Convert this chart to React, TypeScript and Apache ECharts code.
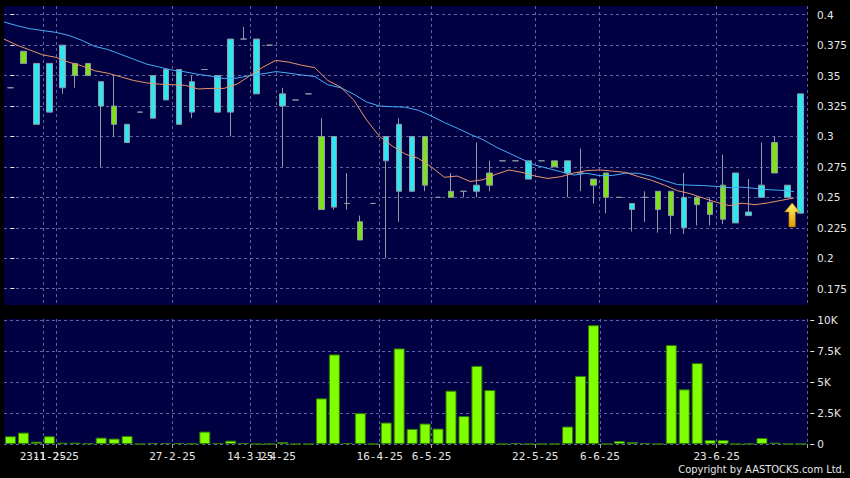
import React, { useEffect, useRef } from 'react';
import * as echarts from 'echarts';

// Day-axis tick labels (placed at the left edge of the listed day slots)
const tickIndices = [3, 4, 13, 19, 21, 29, 33, 41, 46, 55];
const tickLabels = ['23-1-25', '11-2-25', '27-2-25', '14-3-25', '1-4-25', '16-4-25', '6-5-25', '22-5-25', '6-6-25', '23-6-25'];

// Daily OHLC
const opens = [
  0.34, 0.37, 0.31, 0.32, 0.34, 0.36, 0.36, 0.325, 0.325, 0.295,
  0.32, 0.315, 0.33, 0.31, 0.32, 0.355, 0.32, 0.32, 0.38, 0.335,
  0.375, 0.325, 0.33, 0.335, 0.30, 0.242, 0.245, 0.23, 0.245, 0.28,
  0.255, 0.255, 0.30, 0.25, 0.255, 0.255, 0.255, 0.27, 0.28, 0.28,
  0.265, 0.28, 0.28, 0.27, 0.27, 0.265, 0.27, 0.25, 0.24, 0.25,
  0.255, 0.255, 0.225, 0.25, 0.246, 0.26, 0.229, 0.235, 0.25, 0.295,
  0.25, 0.237,
];
const closes = [
  0.34, 0.36, 0.36, 0.36, 0.375, 0.35, 0.35, 0.345, 0.31, 0.31,
  0.32, 0.35, 0.355, 0.355, 0.345, 0.355, 0.35, 0.38, 0.38, 0.38,
  0.375, 0.335, 0.33, 0.335, 0.24, 0.30, 0.245, 0.215, 0.245, 0.30,
  0.31, 0.30, 0.26, 0.25, 0.25, 0.255, 0.26, 0.26, 0.28, 0.28,
  0.28, 0.28, 0.275, 0.28, 0.27, 0.26, 0.25, 0.25, 0.245, 0.25,
  0.24, 0.235, 0.25, 0.244, 0.236, 0.232, 0.27, 0.238, 0.26, 0.27,
  0.26, 0.335,
];
const lows = [
  0.34, 0.36, 0.31, 0.32, 0.335, 0.34, 0.35, 0.275, 0.30, 0.295,
  0.32, 0.315, 0.33, 0.31, 0.315, 0.355, 0.32, 0.30, 0.38, 0.335,
  0.375, 0.275, 0.33, 0.335, 0.24, 0.24, 0.24, 0.215, 0.245, 0.20,
  0.23, 0.255, 0.255, 0.25, 0.25, 0.25, 0.25, 0.255, 0.28, 0.28,
  0.265, 0.28, 0.275, 0.25, 0.255, 0.245, 0.237, 0.25, 0.222, 0.23,
  0.221, 0.22, 0.22, 0.227, 0.227, 0.228, 0.229, 0.235, 0.25, 0.27,
  0.25, 0.237,
];
const highs = [
  0.34, 0.37, 0.36, 0.36, 0.375, 0.36, 0.36, 0.345, 0.35, 0.31,
  0.32, 0.35, 0.355, 0.355, 0.35, 0.355, 0.35, 0.38, 0.39, 0.38,
  0.375, 0.34, 0.33, 0.335, 0.315, 0.30, 0.27, 0.235, 0.245, 0.30,
  0.315, 0.30, 0.30, 0.25, 0.27, 0.255, 0.295, 0.28, 0.28, 0.28,
  0.28, 0.28, 0.28, 0.28, 0.29, 0.265, 0.27, 0.25, 0.245, 0.255,
  0.255, 0.255, 0.27, 0.251, 0.25, 0.285, 0.27, 0.265, 0.295, 0.30,
  0.26, 0.335,
];
const volumes = [
  625, 920, 190, 625, 110, 110, 50, 515, 435, 650,
  0, 80, 80, 80, 30, 1000, 80, 270, 80, 0,
  0, 160, 0, 0, 3680, 7225, 80, 2490, 0, 1730,
  7710, 1220, 1650, 1245, 4300, 2250, 6300, 4350, 0, 80,
  0, 0, 0, 1410, 5490, 9580, 0, 245, 160, 80,
  0, 7980, 4410, 6520, 325, 325, 0, 30, 490, 110,
  0, 0,
];
// Moving averages, one value per day boundary (boundary k = end of day k-1)
const ma10 = [
  0.380, 0.375, 0.371, 0.367, 0.365, 0.361, 0.358, 0.354, 0.352, 0.349,
  0.346, 0.344, 0.343, 0.3425, 0.342, 0.339, 0.3395, 0.3395, 0.343, 0.350,
  0.357, 0.3625, 0.361, 0.3585, 0.3565, 0.346, 0.3405, 0.330, 0.3135, 0.300,
  0.292, 0.2855, 0.282, 0.275, 0.2665, 0.2675, 0.263, 0.2645, 0.269, 0.2725,
  0.2705, 0.2675, 0.2655, 0.267, 0.270, 0.272, 0.2725, 0.2715, 0.2705, 0.267,
  0.264, 0.260, 0.2555, 0.253, 0.2494, 0.246, 0.2432, 0.2452, 0.244, 0.2455,
  0.2475, 0.2495,
];
const ma20 = [
  0.394, 0.391, 0.3885, 0.387, 0.3855, 0.383, 0.379, 0.374, 0.3715, 0.3675,
  0.3635, 0.3595, 0.357, 0.3545, 0.353, 0.351, 0.3495, 0.3475, 0.348, 0.350,
  0.3515, 0.3533, 0.352, 0.3505, 0.3493, 0.3425, 0.340, 0.3348, 0.3283, 0.325,
  0.3245, 0.324, 0.3215, 0.3168, 0.3115, 0.3068, 0.3018, 0.2973, 0.2913, 0.2863,
  0.2813, 0.2765, 0.2738, 0.271, 0.2683, 0.2698, 0.2678, 0.268, 0.2698, 0.2698,
  0.2673, 0.2638, 0.2605, 0.260, 0.2597, 0.259, 0.2579, 0.2584, 0.2573, 0.2563,
  0.2558, 0.2548,
];
const priceTicks = [0.175, 0.2, 0.225, 0.25, 0.275, 0.3, 0.325, 0.35, 0.375, 0.4];
const volumeTicks = [0, 2500, 5000, 7500, 10000];
const priceMin = 0.1616;
const priceMax = 0.40715;
const volumeMax = 10081;
const signalDay = 60;
const signalPrice = 0.2356;

const CYAN = '#2ee6f2';
const GREEN = '#7fe01c';
const VOL = '#80ff00';
const PANEL = '#000042';
const GRIDLINE = '#5a66a0';
const TEXT = '#e6e6e6';

const App: React.FC = () => {
  const ref = useRef<HTMLDivElement>(null);
  useEffect(() => {
    if (!ref.current) return;
    const chart = echarts.init(ref.current, undefined, { renderer: 'svg' });
    const days = opens.map((_, i) => 'd' + i);
    const tickSet = new Set(tickIndices);
    const firstTick = tickIndices[0];
    const labelOf = (i: number) => tickLabels[tickIndices.indexOf(i)] ?? '';
    const dash = { color: GRIDLINE, type: [3, 3] as any, width: 1 };
    const yLabel = { color: TEXT, fontFamily: 'DejaVu Sans', fontSize: 10.5, margin: 7, showMinLabel: true, showMaxLabel: true };
    const xLabelStyle = {
      color: TEXT, fontFamily: 'DejaVu Sans Mono', fontSize: 11, margin: 5,
      padding: [0, 13, 0, 0], hideOverlap: false,
      formatter: (_v: string, i: number) => labelOf(i),
    };

    chart.setOption({
      animation: false,
      backgroundColor: '#000000',
      grid: [
        { left: 4, top: 6, width: 803.3, height: 299, show: true, backgroundColor: PANEL, borderWidth: 0 },
        { left: 4, top: 319, width: 803.3, height: 125, show: true, backgroundColor: PANEL, borderWidth: 0 },
      ],
      xAxis: [
        {
          type: 'category', gridIndex: 0, data: days, boundaryGap: true, position: 'bottom',
          axisLine: { show: false }, axisTick: { show: false }, axisLabel: { show: false },
          splitLine: { show: true, interval: (i: number) => tickSet.has(i), lineStyle: dash },
        },
        {
          type: 'category', gridIndex: 1, data: days, boundaryGap: true, offset: 2, position: 'bottom',
          axisLine: { show: false },
          axisTick: { show: true, length: 4, interval: (i: number) => tickSet.has(i), lineStyle: { color: '#aaaaaa' } },
          axisLabel: {
            ...xLabelStyle, show: true,
            interval: (i: number) => tickSet.has(i) && i !== firstTick,
          },
          splitLine: { show: true, interval: (i: number) => tickSet.has(i), lineStyle: dash },
        },
        {
          type: 'value', gridIndex: 0, min: -0.5, max: days.length - 0.5, show: false, position: 'bottom',
        },
        {
          type: 'category', gridIndex: 1, data: days, boundaryGap: true, offset: 2, position: 'bottom',
          axisLine: { show: false }, axisTick: { show: false }, splitLine: { show: false },
          axisLabel: {
            ...xLabelStyle, show: true, showMinLabel: true,
            interval: (i: number) => i === firstTick,
          },
        },
      ],
      yAxis: [
        {
          type: 'value', gridIndex: 0, position: 'right', offset: 3, min: priceMin, max: priceMax, scale: true,
          axisLine: { show: false },
          axisTick: { show: true, length: 4, customValues: priceTicks, lineStyle: { color: TEXT } },
          axisLabel: { ...yLabel, customValues: priceTicks, formatter: (v: number) => String(+v.toFixed(3)) },
          splitLine: { show: true, lineStyle: dash },
        },
        {
          type: 'value', gridIndex: 1, position: 'right', offset: 3, min: 0, max: volumeMax,
          axisLine: { show: false },
          axisTick: { show: true, length: 4, customValues: volumeTicks, lineStyle: { color: TEXT } },
          axisLabel: { ...yLabel, customValues: volumeTicks, formatter: (v: number) => (v === 0 ? '0' : v / 1000 + 'K') },
          splitLine: { show: true, lineStyle: dash },
        },
      ],
      series: [
        {
          type: 'candlestick', xAxisIndex: 0, yAxisIndex: 0, barWidth: 6,
          data: opens.map((o, i) => [o, closes[i], lows[i], highs[i]]),
          itemStyle: { color: CYAN, color0: GREEN, borderColor: '#8e9aa4', borderColor0: '#8e9aa4', borderWidth: 1 },
          markPoint: {
            symbol: 'path://M7,0 L14,9 L10,9 L10,24 L4,24 L4,9 L0,9 Z',
            symbolSize: [15, 24],
            symbolOffset: [4.6, 0],
            label: { show: false },
            itemStyle: {
              color: new echarts.graphic.LinearGradient(0, 0, 0, 1, [
                { offset: 0, color: '#fff36a' },
                { offset: 1, color: '#e69a00' },
              ]),
              borderColor: '#a86a00', borderWidth: 0.5,
            },
            data: [{ coord: [signalDay, signalPrice] }],
          },
        },
        {
          type: 'line', xAxisIndex: 2, yAxisIndex: 0, showSymbol: false, symbol: 'none',
          data: ma20.map((v, k) => [k - 0.5, v]),
          lineStyle: { color: '#45aef5', width: 1 },
        },
        {
          type: 'line', xAxisIndex: 2, yAxisIndex: 0, showSymbol: false, symbol: 'none',
          data: ma10.map((v, k) => [k - 0.5, v]),
          lineStyle: { color: '#e8956a', width: 1 },
        },
        {
          type: 'bar', xAxisIndex: 1, yAxisIndex: 1, barWidth: 11,
          data: volumes,
          itemStyle: { color: VOL, borderColor: '#2f7d00', borderWidth: 1 },
        },
      ],
      graphic: [
        {
          type: 'text', right: 5, top: 464,
          style: {
            text: 'Copyright by AASTOCKS.com Ltd.', fill: TEXT,
            font: "11px 'DejaVu Sans Condensed', 'DejaVu Sans'",
          },
        },
      ],
    });
    return () => chart.dispose();
  }, []);
  return <div ref={ref} style={{ position: 'fixed', left: 0, top: 0, width: 850, height: 478 }} />;
};

export default App;
